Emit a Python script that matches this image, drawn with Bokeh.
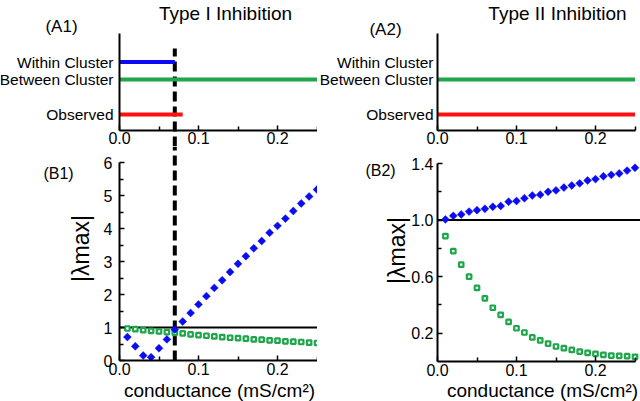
import numpy as np
from bokeh.plotting import figure
from bokeh.models import (ColumnDataSource, FixedTicker, NumeralTickFormatter, Label,
                          LabelSet, Range1d)
from bokeh.core.properties import value
from bokeh.layouts import column, row
from bokeh.embed import file_html
from bokeh.resources import INLINE

FONT = "Liberation Sans"
BLUE = "#0a0af5"
GREEN = "#1ea64b"
RED = "#ff1010"

# ---------------- data ----------------
rows = ["Within Cluster", "Between Cluster", "", "Observed"]
row_colors = [BLUE, GREEN, "#ffffff", RED]
a1_ends = [0.07, 0.25, np.nan, 0.08]
a2_ends = [np.nan, 0.25, np.nan, 0.25]
threshold = 0.07

conductance = [0.01, 0.02, 0.03, 0.04, 0.05, 0.06, 0.07, 0.08, 0.09, 0.10,
               0.11, 0.12, 0.13, 0.14, 0.15, 0.16, 0.17, 0.18, 0.19, 0.20,
               0.21, 0.22, 0.23, 0.24, 0.25]
b1_within = [0.71, 0.43, 0.15, 0.10, 0.37, 0.64, 0.94, 1.18, 1.44, 1.70,
             1.95, 2.20, 2.43, 2.68, 2.93, 3.16, 3.40, 3.62, 3.87, 4.08,
             4.30, 4.53, 4.76, 4.97, 5.18]
b1_between = [0.97, 0.95, 0.92, 0.90, 0.88, 0.86, 0.84, 0.82, 0.79, 0.77,
              0.75, 0.73, 0.71, 0.69, 0.68, 0.66, 0.64, 0.63, 0.61, 0.60,
              0.58, 0.57, 0.56, 0.54, 0.53]
b2_within = [1.005, 1.03, 1.04, 1.06, 1.07, 1.08, 1.094, 1.10, 1.13, 1.135,
             1.155, 1.174, 1.18, 1.20, 1.21, 1.23, 1.245, 1.26, 1.28, 1.29,
             1.31, 1.32, 1.33, 1.35, 1.37]
b2_between = [0.887, 0.78, 0.685, 0.60, 0.52, 0.447, 0.38, 0.33, 0.28, 0.235,
              0.205, 0.17, 0.15, 0.127, 0.106, 0.094, 0.082, 0.07, 0.061, 0.054,
              0.047, 0.042, 0.04, 0.038, 0.033]

x_ticks = [0.0, 0.1, 0.2]
x_minor = [0.05, 0.15, 0.25]
x_max = 0.25
b1_ticks = [0, 1, 2, 3, 4, 5, 6]
b1_minor = [0.5, 1.5, 2.5, 3.5, 4.5, 5.5]
b1_max = 6
b2_ticks = [0.2, 0.6, 1.0, 1.4]
b2_minor = [0.4, 0.8, 1.2]
b2_max = 1.4

# ---------------- layout (page pixels) ----------------
W_L, W_R = 317, 323
H_A, H_B = 146, 255
PX_G = 790.0            # px per mS/cm2


class Panel:
    def __init__(self, ox, oy, w, h, x0, y0, sy):
        self.ox, self.oy, self.w, self.h = ox, oy, w, h
        self.x0, self.y0, self.sy = x0, y0, sy

    def fx(self, px):
        return (px - self.x0) / PX_G

    def fy(self, py):
        return (self.y0 - py) / self.sy

    def fig(self):
        p = figure(width=self.w, height=self.h,
                   x_range=Range1d(self.fx(self.ox), self.fx(self.ox + self.w)),
                   y_range=Range1d(self.fy(self.oy + self.h), self.fy(self.oy)),
                   output_backend="svg", toolbar_location=None,
                   min_border_left=0, min_border_right=0,
                   min_border_top=0, min_border_bottom=0)
        p.outline_line_color = None
        p.xgrid.visible = False
        p.ygrid.visible = False
        p.background_fill_color = "white"
        p.border_fill_color = "white"
        for ax in (p.xaxis[0], p.yaxis[0]):
            ax.axis_line_width = 2
            ax.axis_line_color = "black"
            ax.major_tick_in = 5
            ax.major_tick_out = 0
            ax.minor_tick_in = 4
            ax.minor_tick_out = 0
            ax.major_tick_line_width = 1.5
            ax.minor_tick_line_width = 1.5
            ax.major_tick_line_color = "black"
            ax.minor_tick_line_color = "black"
            ax.major_label_text_font = FONT
            ax.major_label_text_font_size = "16px"
            ax.major_label_text_color = "black"
        p.xaxis[0].ticker = FixedTicker(ticks=x_ticks, minor_ticks=x_minor)
        p.xaxis[0].formatter = NumeralTickFormatter(format="0.0")
        p.xaxis[0].bounds = (0, x_max)
        p.yaxis[0].fixed_location = 0
        return p

    def text(self, p, txt, px, py, size, align="center", baseline="middle", angle=0.0):
        p.add_layout(Label(x=self.fx(px), y=self.fy(py), text=txt, text_font=FONT,
                           text_font_size=size, text_color="black", text_align=align,
                           text_baseline=baseline, angle=angle))


def a_panel(pan, ends, lab_dx, title, title_xy, tag, tag_xy, dashed):
    p = pan.fig()
    ybot, ytop = pan.fy(130), pan.fy(33)
    p.xaxis[0].fixed_location = ybot
    p.xaxis[0].major_label_standoff = 1
    p.yaxis[0].ticker = FixedTicker(ticks=[])
    p.yaxis[0].bounds = (ybot, ytop)
    ypos = [len(rows) - 1 - i for i in range(len(rows))]
    src = ColumnDataSource(dict(y=ypos, end=ends, name=rows, color=row_colors,
                                x0=[0.0] * len(rows)))
    if dashed:
        p.segment(x0=[threshold], y0=[pan.fy(pan.oy + pan.h)], x1=[threshold],
                  y1=[pan.fy(48)], line_color="black", line_width=4, line_dash="10 5")
    p.segment(x0="x0", y0="y", x1="end", y1="y", source=src, line_color="color",
              line_width=4)
    p.add_layout(LabelSet(x="x0", y="y", text="name", source=src, x_offset=lab_dx,
                          text_align="right", text_baseline="middle",
                          text_font=value(FONT), text_font_size=value("15.5px"),
                          text_color="black"))
    pan.text(p, title, title_xy[0], title_xy[1], "19px", baseline="alphabetic")
    pan.text(p, tag, tag_xy[0], tag_xy[1], "17px")
    return p


def b_panel(pan, ticks, minor, top, fmt, within, between, tag, tag_xy, ylab_xy,
            xlab_x, label_standoff, dashed):
    p = pan.fig()
    p.xaxis[0].fixed_location = 0
    p.xaxis[0].major_label_standoff = 2
    p.yaxis[0].ticker = FixedTicker(ticks=ticks, minor_ticks=minor)
    p.yaxis[0].bounds = (0, top)
    if fmt:
        p.yaxis[0].formatter = NumeralTickFormatter(format=fmt)
    p.yaxis[0].major_label_standoff = label_standoff
    p.segment(x0=[0], y0=[1.0], x1=[pan.fx(pan.ox + pan.w)], y1=[1.0],
              line_color="black", line_width=2)
    if dashed:
        p.segment(x0=[threshold], y0=[0], x1=[threshold], y1=[pan.fy(pan.oy)],
                  line_color="black", line_width=4, line_dash="10 5")
    src = ColumnDataSource(dict(x=conductance, w=within, b=between))
    p.scatter(x="x", y="b", source=src, marker="square", size=4.5, line_width=2.2,
              line_color=GREEN, fill_color="white")
    p.scatter(x="x", y="w", source=src, marker="square", size=5.6, angle=np.pi / 4,
              line_color=BLUE, fill_color=BLUE, line_width=0.5)
    pan.text(p, tag, tag_xy[0], tag_xy[1], "16px")
    pan.text(p, "|\u03bbmax|", ylab_xy[0], ylab_xy[1], "23px", angle=np.pi / 2)
    pan.text(p, "conductance (mS/cm\u00b2)", xlab_x, 390, "19px")
    return p


pa1 = Panel(0, 0, W_L, H_A, 119, 114, 17.5)
pa2 = Panel(W_L, 0, W_R, H_A, 437, 114, 17.5)
pb1 = Panel(0, H_A, W_L, H_B, 119, 360, 33.0)
pb2 = Panel(W_L, H_A, W_R, H_B, 437, 361, 141.4)

a1 = a_panel(pa1, a1_ends, -6, "Type I Inhibition", (225, 13), "(A1)", (61, 26), True)
a2 = a_panel(pa2, a2_ends, -4, "Type II Inhibition", (557, 13), "(A2)", (385, 29), False)
b1 = b_panel(pb1, b1_ticks, b1_minor, b1_max, None, b1_within, b1_between,
             "(B1)", (58, 173), (80, 248), 219, 7, True)
b2 = b_panel(pb2, b2_ticks, b2_minor, b2_max, "0.0", b2_within, b2_between,
             "(B2)", (380, 170), (396, 250), 542, 4, False)

layout = column(row(a1, a2), row(b1, b2))
open("out.html", "w").write(file_html(layout, INLINE))
